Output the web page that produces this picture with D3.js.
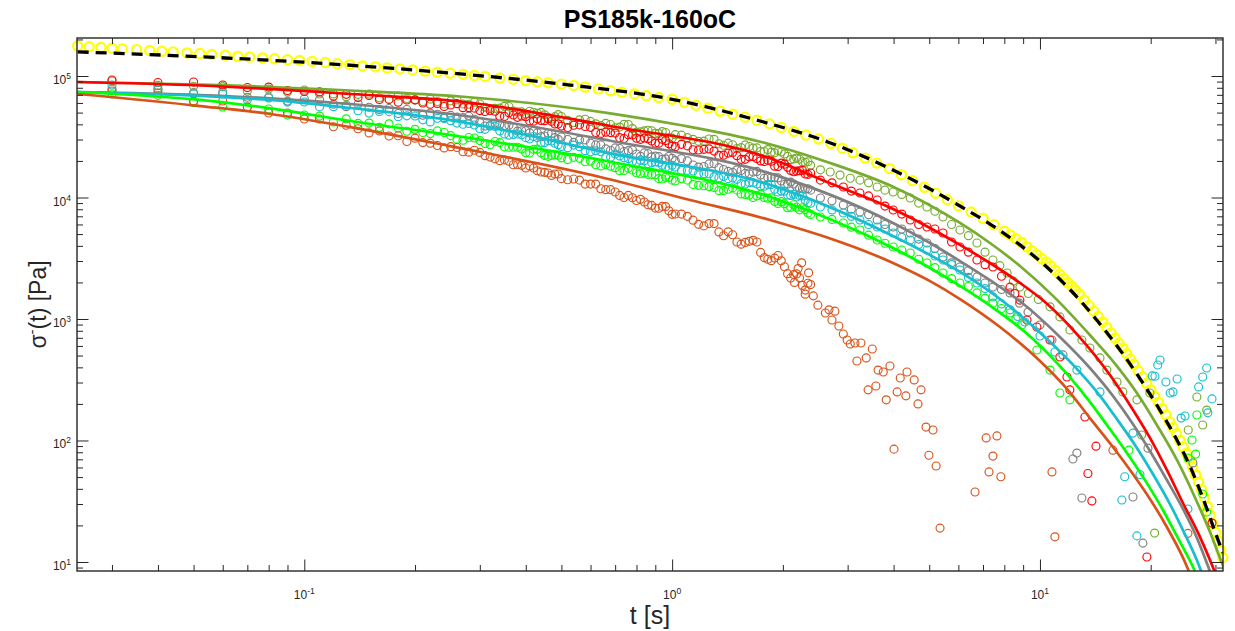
<!DOCTYPE html>
<html>
<head>
<meta charset="utf-8">
<script src="https://cdn.jsdelivr.net/npm/d3@7"></script>
<style>
  body { margin: 0; background: #fff; }
  svg { display: block; font-family: "Liberation Sans", Arial, Helvetica, sans-serif; }
</style>
</head>
<body>
<div id="chart"></div>
<script>
// ---- data ----
// measured stress relaxation, common time grids for the dense part (s)
const tDense = [0.03,0.04,0.05,0.06,0.07,0.08,0.09,0.10,0.11,0.12,0.13,0.14,0.15,0.16,0.17,0.18,0.19,0.20,
  0.22,0.24,0.26,0.28,0.30,0.32,0.34,0.36,0.38,0.40,0.42,0.44,0.46,0.48,0.50,
  0.54,0.58,0.62,0.66,0.70,0.74,0.78,0.82,0.86,0.90,0.94,0.98,
  1.02,1.10,1.18,1.26,1.34,1.42,1.50,1.58,1.66,1.74,1.82,1.90,1.98,2.06,2.14,2.22,2.30,2.38];
const tMid = [0.21,0.23,0.25,0.27,0.29,0.31,0.33,0.35,0.37,0.39,0.41,0.43,0.45,0.47,0.49,
  0.52,0.56,0.60,0.64,0.68,0.72,0.76,0.80,0.84,0.88,0.92,0.96,1.00,
  1.06,1.14,1.22,1.30,1.38,1.46,1.54,1.62,1.70,1.78,1.86,1.94,2.02,2.10,2.18,2.26,2.34];

const oliveDense = [9.10e4,8.37e4,8.24e4,8.17e4,7.53e4,7.80e4,7.37e4,7.67e4,7.11e4,7.12e4,
  6.76e4,7.06e4,7.10e4,6.62e4,6.42e4,6.85e4,6.53e4,6.33e4,6.46e4,5.88e4,
  6.37e4,5.85e4,5.88e4,5.39e4,5.44e4,5.61e4,5.07e4,4.86e4,5.03e4,5.02e4,
  4.56e4,4.63e4,4.64e4,4.15e4,4.41e4,4.04e4,4.08e4,3.75e4,4.00e4,3.69e4,
  3.47e4,3.58e4,3.37e4,3.49e4,3.11e4,3.29e4,3.11e4,2.90e4,3.03e4,2.77e4,
  2.80e4,2.53e4,2.71e4,2.55e4,2.39e4,2.48e4,2.33e4,2.37e4,2.18e4,2.07e4,
  2.07e4,1.95e4,1.84e4];
const oliveMid = [6.16e4,6.17e4,6.24e4,5.88e4,6.09e4,5.53e4,5.42e4,5.63e4,5.14e4,5.06e4,5.13e4,4.93e4,4.79e4,4.43e4,4.81e4,
  4.31e4,4.36e4,4.23e4,3.91e4,3.99e4,3.80e4,3.99e4,3.45e4,3.53e4,3.54e4,3.36e4,3.43e4,3.08e4,
  3.26e4,3.01e4,2.91e4,3.01e4,2.69e4,2.72e4,2.57e4,2.63e4,2.56e4,2.39e4,2.36e4,2.44e4,2.28e4,2.05e4,2.11e4,1.97e4,1.97e4];
const redDense = [9.27e4,8.85e4,8.93e4,8.43e4,8.04e4,8.11e4,7.60e4,7.45e4,7.40e4,6.82e4,
  7.06e4,6.65e4,6.91e4,6.41e4,6.42e4,6.09e4,6.35e4,6.37e4,5.86e4,5.61e4,
  5.92e4,5.49e4,5.19e4,5.21e4,4.67e4,4.98e4,4.57e4,4.62e4,4.25e4,4.30e4,
  4.45e4,4.03e4,3.87e4,3.93e4,3.84e4,3.43e4,3.45e4,3.39e4,3.06e4,3.27e4,
  3.01e4,3.04e4,2.80e4,3.01e4,2.77e4,2.62e4,2.66e4,2.46e4,2.51e4,2.22e4,
  2.32e4,2.21e4,2.06e4,2.17e4,2.00e4,2.03e4,1.81e4,1.92e4,1.77e4,1.63e4,
  1.66e4,1.56e4,1.59e4];
const redMid = [6.00e4,5.95e4,5.77e4,5.49e4,5.44e4,5.10e4,5.13e4,4.65e4,4.78e4,4.69e4,4.27e4,4.44e4,4.29e4,4.24e4,4.03e4,
  3.76e4,3.96e4,3.78e4,3.37e4,3.42e4,3.11e4,3.29e4,3.08e4,3.09e4,2.92e4,2.80e4,2.94e4,2.65e4,
  2.74e4,2.47e4,2.49e4,2.41e4,2.23e4,2.35e4,2.06e4,2.16e4,2.09e4,1.98e4,1.99e4,1.80e4,1.88e4,1.67e4,1.65e4,1.67e4,1.55e4];
const grayDense = [7.82e4,7.86e4,7.29e4,7.36e4,6.69e4,6.59e4,6.22e4,6.47e4,6.38e4,5.85e4,
  5.59e4,5.88e4,5.53e4,5.31e4,5.40e4,4.91e4,5.30e4,4.92e4,4.95e4,4.54e4,
  4.59e4,4.67e4,4.15e4,3.91e4,3.99e4,3.93e4,3.52e4,3.55e4,3.51e4,3.16e4,
  3.38e4,3.11e4,3.15e4,2.84e4,2.98e4,2.71e4,2.51e4,2.56e4,2.39e4,2.46e4,
  2.18e4,2.29e4,2.19e4,2.06e4,2.18e4,2.01e4,2.00e4,1.78e4,1.89e4,1.76e4,
  1.64e4,1.69e4,1.58e4,1.62e4,1.53e4,1.46e4,1.46e4,1.37e4,1.29e4,1.29e4,
  1.19e4,1.17e4,1.15e4];
const grayMid = [4.76e4,4.84e4,4.74e4,4.54e4,4.41e4,3.88e4,4.10e4,3.88e4,3.80e4,3.54e4,3.40e4,3.40e4,3.21e4,3.37e4,3.01e4,
  3.00e4,2.97e4,2.80e4,2.71e4,2.45e4,2.53e4,2.43e4,2.28e4,2.33e4,2.16e4,2.17e4,2.08e4,2.10e4,
  2.09e4,1.85e4,1.80e4,1.90e4,1.70e4,1.61e4,1.67e4,1.57e4,1.64e4,1.44e4,1.46e4,1.45e4,1.28e4,1.34e4,1.22e4,1.18e4,1.18e4];
const cyanDense = [8.43e4,7.67e4,7.14e4,7.11e4,6.38e4,6.72e4,6.10e4,6.11e4,5.57e4,5.59e4,
  5.75e4,5.18e4,4.95e4,5.11e4,5.09e4,4.62e4,4.70e4,4.69e4,4.19e4,4.47e4,
  4.10e4,4.07e4,3.68e4,3.88e4,3.52e4,3.26e4,3.33e4,3.11e4,3.18e4,2.81e4,
  2.94e4,2.80e4,2.63e4,2.70e4,2.43e4,2.42e4,2.15e4,2.28e4,2.12e4,1.98e4,
  2.03e4,1.90e4,1.96e4,1.84e4,1.76e4,1.78e4,1.67e4,1.57e4,1.57e4,1.45e4,
  1.43e4,1.41e4,1.29e4,1.33e4,1.24e4,1.28e4,1.17e4,1.13e4,1.05e4,1.06e4,
  1.04e4,9.48e3,8.97e3];
const cyanMid = [4.36e4,4.49e4,4.29e4,4.01e4,3.95e4,3.64e4,3.84e4,3.33e4,3.30e4,3.28e4,3.03e4,3.11e4,2.83e4,2.92e4,2.72e4,
  2.57e4,2.62e4,2.38e4,2.38e4,2.14e4,2.20e4,2.09e4,1.94e4,2.01e4,1.93e4,1.94e4,1.77e4,1.84e4,
  1.67e4,1.65e4,1.57e4,1.48e4,1.49e4,1.45e4,1.30e4,1.33e4,1.29e4,1.24e4,1.28e4,1.11e4,1.13e4,1.04e4,1.01e4,1.03e4,9.05e3];
const greenDense = [7.11e4,6.93e4,6.03e4,5.56e4,5.54e4,5.35e4,4.77e4,4.78e4,4.68e4,4.18e4,
  4.44e4,4.07e4,4.10e4,3.78e4,4.04e4,3.73e4,3.51e4,3.64e4,3.36e4,3.43e4,
  3.02e4,3.12e4,2.94e4,2.72e4,2.83e4,2.59e4,2.59e4,2.33e4,2.49e4,2.33e4,
  2.18e4,2.25e4,2.12e4,2.14e4,1.97e4,1.86e4,1.86e4,1.76e4,1.67e4,1.68e4,
  1.57e4,1.55e4,1.54e4,1.42e4,1.46e4,1.37e4,1.39e4,1.26e4,1.23e4,1.14e4,
  1.17e4,1.15e4,1.06e4,1.00e4,1.06e4,9.87e3,9.27e3,9.24e3,8.23e3,8.71e3,
  7.92e3,7.95e3,7.26e3];
const greenMid = [3.43e4,3.53e4,3.23e4,2.96e4,3.09e4,2.78e4,2.89e4,2.61e4,2.59e4,2.51e4,2.32e4,2.50e4,2.22e4,2.22e4,2.23e4,
  2.05e4,2.10e4,1.99e4,1.82e4,1.81e4,1.66e4,1.74e4,1.60e4,1.59e4,1.55e4,1.43e4,1.47e4,1.39e4,
  1.43e4,1.28e4,1.25e4,1.21e4,1.14e4,1.20e4,1.07e4,1.05e4,1.03e4,1.00e4,9.93e3,8.92e3,8.90e3,8.31e3,8.32e3,8.24e3,7.46e3];
const orangeDense = [7.53e4,7.25e4,6.23e4,6.23e4,5.56e4,4.96e4,4.96e4,4.43e4,4.43e4,3.82e4,
  3.93e4,3.68e4,3.40e4,3.53e4,3.21e4,3.22e4,2.89e4,3.08e4,2.80e4,2.56e4,
  2.58e4,2.36e4,2.35e4,2.15e4,2.01e4,1.99e4,1.86e4,1.75e4,1.75e4,1.62e4,
  1.59e4,1.56e4,1.43e4,1.42e4,1.29e4,1.29e4,1.16e4,1.11e4,1.00e4,9.96e3,
  9.66e3,8.71e3,8.18e3,8.45e3,7.77e3,7.32e3,7.00e3,6.01e3,6.10e3,5.21e3,
  5.22e3,4.30e3,4.27e3,4.44e3,3.53e3,3.10e3,3.17e3,3.01e3,2.36e3,2.32e3,
  2.19e3,1.73e3,1.92e3];
const orangeMid = [2.83e4,2.68e4,2.62e4,2.38e4,2.45e4,2.21e4,2.08e4,2.04e4,1.86e4,1.84e4,1.82e4,1.66e4,1.61e4,1.52e4,1.56e4,
  1.40e4,1.39e4,1.29e4,1.18e4,1.16e4,1.04e4,1.04e4,9.45e3,9.19e3,8.61e3,8.16e3,8.42e3,7.27e3,
  7.30e3,6.51e3,5.84e3,6.10e3,4.84e3,4.94e3,4.13e3,4.36e3,4.30e3,3.20e3,3.02e3,3.33e3,2.69e3,2.17e3,2.35e3,1.89e3,1.97e3];

// sparser / noisy long-time points [t, sigma]
const oliveTail = [[2.53,1.69e4],[2.69,1.62e4],[2.86,1.53e4],[3.05,1.44e4],[3.24,1.39e4],[3.42,1.32e4],
  [3.61,1.22e4],[3.79,1.15e4],[3.99,1.11e4],[4.21,1.06e4],[4.44,9.9e3],[4.68,9.0e3],[4.93,8.35e3],
  [5.18,7.7e3],[5.45,6.91e3],[5.75,6.0e3],[6.06,5.4e3],[6.39,4.85e3],[6.74,4.22e3],[7.09,3.55e3],
  [7.45,3.06e3],[7.78,2.75e3],[8.14,2.39e3],[8.47,2.05e3],[8.82,1.83e3],[9.3,1.62e3],[9.9,1.45e3],
  [10.65,1.26e3],[11.33,1.04e3],[12.06,812],[13.0,672],[13.67,577],[14.56,478],[15.2,380],[16.2,303],
  [16.8,251],[18.35,216],[19.9,246],[18.9,111],[25.3,122],[26.7,228],[28.4,178],[27.7,134],[20.5,17.3]];
const redTail = [[2.53,1.39e4],[2.72,1.32e4],[2.92,1.22e4],[3.07,1.13e4],[3.24,1.09e4],[3.42,1.03e4],
  [3.61,9.54e3],[3.79,8.5e3],[3.99,7.89e3],[4.21,7.3e3],[4.44,6.53e3],[4.68,6.0e3],[4.93,5.72e3],
  [5.18,5.5e3],[5.45,5.1e3],[5.75,4.3e3],[6.06,3.91e3],[6.39,3.55e3],[6.74,3.06e3],[7.09,2.8e3],
  [7.45,2.68e3],[7.86,2.25e3],[8.29,1.83e3],[8.55,1.62e3],[8.82,1.43e3],[9.22,981],[9.81,859],
  [10.65,672],[11.33,487],[11.84,333],[12.06,261],[13.25,156],[14.2,89.8],[13.5,53.5],[13.84,31.8],
  [19.53,11.0],[29.35,20.9]];
const grayTail = [[2.53,9.91e3],[2.72,9.4e3],[2.92,8.68e3],[3.07,8.0e3],[3.24,7.6e3],[3.42,7.2e3],
  [3.61,6.53e3],[3.79,6.0e3],[3.99,5.72e3],[4.21,5.5e3],[4.44,5.1e3],[4.68,4.55e3],[4.93,4.22e3],
  [5.18,3.8e3],[5.45,3.24e3],[5.75,2.9e3],[6.06,2.68e3],[6.39,2.5e3],[6.74,2.22e3],[7.09,1.98e3],
  [7.45,1.83e3],[7.86,1.75e3],[8.29,1.64e3],[8.8,1.35e3],[9.28,1.14e3],[10,893],[10.78,672],[11.55,506],
  [12.6,78.8],[12.29,70.4],[13.0,33.6],[17.9,34.3],[19.05,14.3],[26.05,65.4],[19.66,86.5]];
const cyanTail = [[2.53,8.35e3],[2.72,7.9e3],[2.92,7.46e3],[3.07,7.0e3],[3.24,6.53e3],[3.42,6.0e3],
  [3.61,5.72e3],[3.79,5.5e3],[3.99,5.1e3],[4.21,4.7e3],[4.44,4.47e3],[4.68,4.1e3],[4.93,3.7e3],
  [5.18,3.3e3],[5.45,3.06e3],[5.75,2.8e3],[6.06,2.53e3],[6.39,2.2e3],[6.74,1.98e3],[7.09,1.78e3],
  [7.45,1.52e3],[7.86,1.33e3],[8.29,1.19e3],[8.7,1.05e3],[9.1,945],[10,725],[10.98,535],[12.6,380],
  [14.56,251],[21.2,460],[20.9,418],[20.2,340],[20.54,338],[22.0,303],[23.6,321],[22.6,246],[23.0,251],
  [28.4,395],[27.7,333],[27.0,276],[29.35,220],[28.6,169],[24.2,153],[24.8,159],[17.9,115],
  [17.0,50.3],[18.7,52.5],[16.7,32.4],[18.35,16.4],[25.25,27.3]];
const greenTail = [[2.53,6.91e3],[2.72,6.6e3],[2.92,6.17e3],[3.07,5.7e3],[3.24,5.4e3],[3.42,4.9e3],
  [3.61,4.47e3],[3.79,4.2e3],[3.99,3.91e3],[4.21,3.7e3],[4.44,3.49e3],[4.68,3.1e3],[4.93,2.89e3],
  [5.18,2.65e3],[5.45,2.39e3],[5.75,2.15e3],[6.06,1.98e3],[6.39,1.85e3],[6.74,1.64e3],[7.09,1.48e3],
  [7.45,1.35e3],[7.86,1.22e3],[8.29,1.12e3],[8.6,1.0e3],[8.93,893],[9.81,556],[10.65,380],[11.33,246],
  [12.06,216],[17.45,83.2],[26.7,162],[25.9,101],[25.25,71.7],[26.5,77.3],[27.7,36.3],[28.4,25.8]];
const orangeTail = [[2.2,2.6e3],[2.3,1.6e3],[2.35,2.4e3],[2.15,2.0e3],[2.42,1.55e3],[2.25,2.9e3],
  [2.49,1.30e3],[2.67,1.19e3],[2.77,1.16e3],[2.61,1.12e3],[2.72,981],[2.84,876],[2.92,753],[2.99,672],
  [3.05,623],[3.14,635],[3.26,635],[3.50,566],[3.37,478],[3.18,451],[3.63,380],[3.75,366],[3.91,410],
  [4.17,327],[3.58,281],[3.41,261],[3.82,216],[4.09,251],[4.01,84.9],[4.35,366],[4.55,315],[4.75,261],
  [4.32,233],[4.66,200],[4.90,129],[5.12,122],[4.99,75.6],[5.22,61.7],[5.35,19.0],[6.66,37.7],
  [7.14,105],[7.64,109],[7.45,74.4],[7.27,55.1],[7.83,50.3],[10.78,55.1],[10.98,16.1],[15.79,83.2],
  [25.25,17.2]];

// yellow reference data
const yellowT = [0.0242,0.026,0.028,0.030,0.032,0.035,0.038,0.041,0.044,0.048,0.052,
  0.056,0.061,0.066,0.071,0.077,0.083,0.090,0.097,0.105,0.114,0.123,0.133,0.144,0.156,0.168,0.182,0.197,0.213,0.230,0.249,
  0.27,0.29,0.31,0.34,0.37,0.40,0.43,0.46,0.50,
  0.54,0.58,0.63,0.68,0.73,0.79,0.85,0.92,
  1.0,1.08,1.16,1.25,1.35,1.46,1.58,1.70,1.84,1.98,2.14,2.31,2.50,
  2.70,2.90,3.10,3.35,3.60,3.90,4.20,4.50,4.85,5.20,5.60,6.00,6.50,7.00,7.50,8.00,
  8.3,8.6,8.9,9.2,9.5,9.8,10.1,10.4,10.7,11.0,11.3,11.6,11.9,12.2,12.5,12.8,
  13.2,13.6,14.0,14.4,14.8,15.2,15.6,16.0,16.4,16.8,17.2,17.6,18.0,
  18.5,19.0,19.5,20.0,20.5,21.0,21.5,22.0,22.5,23.0,23.5,24.0,24.5,25.0,25.5,26.0,26.5,27.0,27.5,
  28.0,28.5,29.0,29.5,30.0,30.5,31.0,31.4];
const yellowS = [1.77e5,1.74e5,1.72e5,1.69e5,1.67e5,1.65e5,1.62e5,1.60e5,1.58e5,1.55e5,1.53e5,
  1.505e5,1.48e5,1.45e5,1.43e5,1.41e5,1.385e5,1.36e5,1.34e5,1.315e5,1.29e5,1.26e5,1.24e5,1.21e5,1.19e5,1.166e5,1.142e5,1.12e5,1.097e5,1.076e5,1.054e5,
  1.032e5,1.01e5,9.90e4,9.63e4,9.39e4,9.17e4,8.97e4,8.79e4,8.58e4,
  8.35e4,8.10e4,7.83e4,7.57e4,7.35e4,7.11e4,6.89e4,6.66e4,
  6.43e4,6.07e4,5.75e4,5.44e4,5.14e4,4.85e4,4.57e4,4.33e4,4.04e4,3.77e4,3.50e4,3.26e4,3.03e4,
  2.79e4,2.54e4,2.33e4,2.11e4,1.92e4,1.73e4,1.54e4,1.376e4,1.216e4,1.083e4,9.58e3,8.54e3,7.60e3,6.72e3,5.97e3,5.27e3,
  4.91e3,4.59e3,4.27e3,3.94e3,3.65e3,3.39e3,3.15e3,2.94e3,2.73e3,2.52e3,2.33e3,2.16e3,2.00e3,1.86e3,1.73e3,1.60e3,
  1.43e3,1.29e3,1.16e3,1.05e3,945,851,768,695,631,574,518,468,424,
  375,333,295,261,231,206,183,162,143,128,114,100,88.4,78.3,69.5,60.1,52.1,45.3,39.5,
  33.8,28.7,24.3,20.6,17.6,14.9,12.5,10.9];

// model curves [t, sigma]
const dashFit = [[0.0242,1.58e5],[0.0522,1.44e5],[0.0994,1.30e5],[0.2654,1.04e5],[0.528,8.43e4],[1.0,6.43e4],
  [1.735,4.26e4],[2.638,2.88e4],[3.986,1.685e4],[5.025,1.175e4],[6.062,8.51e3],[7.313,6.05e3],[8.824,4.07e3],
  [10.65,2.53e3],[12.6,1.52e3],[14.56,910],[16.81,516],[19.05,297],[21.19,178],[23.57,101],[25.56,61.7],
  [27.73,33.6],[30.27,16.1],[31.43,11.9]];
const oliveFit = [[0.0242,8.93e4],[0.0522,8.51e4],[0.1334,7.60e4],[0.2654,6.78e4],[0.6785,4.93e4],[1.051,3.95e4],
  [1.735,2.88e4],[2.638,1.96e4],[3.986,1.227e4],[6.062,6.17e3],[7.313,4.22e3],[8.824,2.73e3],[10.85,1.55e3],
  [13.67,738],[16.19,410],[18.35,246],[20.79,134],[23.57,69.1],[26.05,37.0],[28.97,17.7],[31.24,9.8],[32.84,6.71]];
const redFit = [[0.0242,8.93e4],[0.0522,8.35e4],[0.1334,7.11e4],[0.2654,6.17e4],[0.6785,3.88e4],[1.846,2.10e4],
  [2.638,1.34e4],[3.986,8.04e3],[5.025,5.61e3],[6.062,4.07e3],[7.313,2.89e3],[8.824,1.98e3],[10.32,1.38e3],
  [12.6,752],[15.5,346],[17.56,196],[19.91,105],[22.13,57.2],[24.47,30.6],[27.22,16.1],[29.89,8.27],[31.24,5.87]];
const grayFit = [[0.0242,7.385e4],[0.0522,6.98e4],[0.0808,6.55e4],[0.1334,5.88e4],[0.2654,4.75e4],[0.6785,2.93e4],
  [1.846,1.58e4],[3.986,6.17e3],[5.025,4.22e3],[6.062,3.00e3],[7.313,2.09e3],[8.935,1.36e3],[11.33,711],
  [13.67,395],[15.79,233],[17.89,137],[19.91,82.0],[22.13,47.3],[24.47,27.4],[26.71,15.8],[28.61,9.3],[29.89,6.46]];
const cyanFit = [[0.0242,7.385e4],[0.0522,6.85e4],[0.0808,6.35e4],[0.1334,5.45e4],[0.2492,4.34e4],[0.6785,2.31e4],
  [1.846,1.27e4],[3.986,4.82e3],[5.025,3.36e3],[6.062,2.44e3],[7.786,1.46e3],[10.45,685],[12.6,388],
  [14.56,233],[16.19,150],[18.35,86.8],[20.28,53.0],[22.56,30.0],[24.47,18.3],[27.22,8.93],[28.08,6.84]];
const greenFit = [[0.0242,7.385e4],[0.0522,6.35e4],[0.0808,5.42e4],[0.1334,4.26e4],[0.2492,3.27e4],[0.6785,1.97e4],
  [1.846,1.01e4],[3.986,3.84e3],[5.025,2.63e3],[6.062,1.87e3],[7.313,1.29e3],[9.572,685],[11.84,353],
  [13.67,208],[15.21,134],[17.24,78.9],[19.53,44.6],[21.59,26.8],[23.57,16.3],[26.37,8.43],[27.22,6.71]];
const orangeFit = [[0.0242,7.11e4],[0.0522,5.66e4],[0.0808,4.87e4],[0.1334,3.80e4],[0.2492,2.65e4],[0.637,1.475e4],
  [1.119,9.54e3],[1.846,6.53e3],[3.986,2.89e3],[5.025,2.05e3],[6.062,1.46e3],[7.786,859],[10.0,451],
  [11.84,266],[13.67,153],[15.79,88.4],[17.89,53.0],[19.91,33.0],[22.13,19.4],[25.25,8.76],[26.05,6.84]];

// axes ticks
const xMajor = [0.1, 1, 10];
const xMajorExp = ["-1", "0", "1"];
const xMinor = [0.03,0.04,0.05,0.06,0.07,0.08,0.09,0.2,0.3,0.4,0.5,0.6,0.7,0.8,0.9,2,3,4,5,6,7,8,9,20,30];
const yMajor = [10, 100, 1000, 10000, 100000];
const yMajorExp = ["1", "2", "3", "4", "5"];

const colors = {
  yellow: "#FFFF00", olive: "#77AC30", red: "#FF0000", gray: "#808080",
  cyan: "#17BECF", green: "#00FF00", orange: "#D95319"
};

// ---- chart ----
const width = 1235, height = 631;
const plot = {left: 77, right: 1223, top: 38, bottom: 571};

const x = d3.scaleLog().domain([0.0241, 31.45]).range([plot.left, plot.right]);
const y = d3.scaleLog().domain([8.43, 2.055e5]).range([plot.bottom, plot.top]);

const svg = d3.select("#chart").append("svg")
  .attr("width", width).attr("height", height);

svg.append("rect").attr("width", width).attr("height", height).attr("fill", "#fff");

svg.append("clipPath").attr("id", "clip")
  .append("rect")
  .attr("x", plot.left).attr("y", plot.top)
  .attr("width", plot.right - plot.left).attr("height", plot.bottom - plot.top);

//combine dense grid, in-between grid and tail of each measured series
function series(dense, mid, tail) {
  return tDense.map((t, i) => [t, dense[i]])
    .concat(tMid.map((t, i) => [t, mid[i]]))
    .concat(tail)
    .filter(d => d[1] !== undefined);
}

const yellowPts = yellowT.map((t, i) => [t, yellowS[i]]).filter(d => d[1] !== undefined);

const markers = [
  {pts: yellowPts, color: colors.yellow, r: 4.6, w: 2.2},
  {pts: series(oliveDense, oliveMid, oliveTail), color: colors.olive, r: 4, w: 1.15},
  {pts: series(grayDense, grayMid, grayTail), color: colors.gray, r: 4, w: 1.15},
  {pts: series(redDense, redMid, redTail), color: colors.red, r: 4, w: 1.15},
  {pts: series(cyanDense, cyanMid, cyanTail), color: colors.cyan, r: 4, w: 1.15},
  {pts: series(greenDense, greenMid, greenTail), color: colors.green, r: 4, w: 1.15},
  {pts: series(orangeDense, orangeMid, orangeTail), color: colors.orange, r: 4, w: 1.15}
];

const dataLayer = svg.append("g");

markers.forEach(s => {
  dataLayer.append("g")
    .selectAll("circle")
    .data(s.pts)
    .enter()
    .append("circle")
    .attr("cx", d => x(d[0]))
    .attr("cy", d => y(d[1]))
    .attr("r", s.r)
    .attr("fill", "none")
    .attr("stroke", s.color)
    .attr("stroke-width", s.w);
});

//fitted model lines
const line = d3.line()
  .x(d => x(d[0]))
  .y(d => y(d[1]))
  .curve(d3.curveMonotoneX);

const fits = [
  {pts: oliveFit, color: colors.olive},
  {pts: redFit, color: colors.red},
  {pts: grayFit, color: colors.gray},
  {pts: cyanFit, color: colors.cyan},
  {pts: greenFit, color: colors.green},
  {pts: orangeFit, color: colors.orange}
];

const lineLayer = svg.append("g").attr("clip-path", "url(#clip)");

fits.forEach(f => {
  lineLayer.append("path")
    .datum(f.pts)
    .attr("d", line)
    .attr("fill", "none")
    .attr("stroke", f.color)
    .attr("stroke-width", 2.7);
});

lineLayer.append("path")
  .datum(dashFit)
  .attr("d", line)
  .attr("fill", "none")
  .attr("stroke", "#000")
  .attr("stroke-width", 3.3)
  .attr("stroke-dasharray", "11,7");

// ---- axes ----
const axisColor = "#262626";

function ticks(axis, values, size, transform) {
  const g = svg.append("g")
    .attr("transform", transform)
    .call(axis.tickValues(values).tickSizeInner(-size).tickSizeOuter(0).tickFormat(""));
  g.select(".domain").remove();
  g.selectAll("line").attr("stroke", axisColor).attr("stroke-width", 1);
}

let yMinor = [];
for (let k = 0; k <= 5; k++) {
  for (let m = 2; m <= 9; m++) {
    const v = m * Math.pow(10, k);
    if (v > 8.43 && v < 2.055e5) yMinor.push(v);
  }
}

ticks(d3.axisBottom(x), xMajor, 11.5, `translate(0,${plot.bottom})`);
ticks(d3.axisBottom(x), xMinor, 6, `translate(0,${plot.bottom})`);
ticks(d3.axisTop(x), xMajor, 11.5, `translate(0,${plot.top})`);
ticks(d3.axisTop(x), xMinor, 6, `translate(0,${plot.top})`);
ticks(d3.axisLeft(y), yMajor, 11.5, `translate(${plot.left},0)`);
ticks(d3.axisLeft(y), yMinor, 6, `translate(${plot.left},0)`);
ticks(d3.axisRight(y), yMajor, 11.5, `translate(${plot.right},0)`);
ticks(d3.axisRight(y), yMinor, 6, `translate(${plot.right},0)`);

svg.append("rect")
  .attr("x", plot.left).attr("y", plot.top)
  .attr("width", plot.right - plot.left).attr("height", plot.bottom - plot.top)
  .attr("fill", "none").attr("stroke", axisColor).attr("stroke-width", 1.4);

// tick labels with superscript exponents
xMajor.forEach((v, i) => {
  const t = svg.append("text")
    .attr("x", x(v))
    .attr("y", plot.bottom + 27.5)
    .attr("text-anchor", "middle")
    .attr("fill", axisColor)
    .attr("font-size", 12);
  t.append("tspan").text("10");
  t.append("tspan").attr("dy", -5).attr("font-size", 8.5).text(xMajorExp[i]);
});

yMajor.forEach((v, i) => {
  const t = svg.append("text")
    .attr("x", plot.left - 6)
    .attr("y", y(v) + 8)
    .attr("text-anchor", "end")
    .attr("fill", axisColor)
    .attr("font-size", 12);
  t.append("tspan").text("10");
  t.append("tspan").attr("dy", -5).attr("font-size", 8.5).text(yMajorExp[i]);
});

// title and axis labels
svg.append("text")
  .attr("x", (plot.left + plot.right) / 2)
  .attr("y", 28)
  .attr("text-anchor", "middle")
  .attr("font-size", 25)
  .attr("font-weight", "bold")
  .attr("fill", "#000")
  .text("PS185k-160oC");

svg.append("text")
  .attr("x", (plot.left + plot.right) / 2)
  .attr("y", 624)
  .attr("text-anchor", "middle")
  .attr("font-size", 25)
  .attr("fill", axisColor)
  .text("t [s]");

const yl = svg.append("text")
  .attr("transform", `translate(46,${(plot.top + plot.bottom) / 2}) rotate(-90)`)
  .attr("text-anchor", "middle")
  .attr("font-size", 23)
  .attr("fill", axisColor);
yl.append("tspan").text("σ");
yl.append("tspan").attr("dy", -9).attr("font-size", 15).text("-");
yl.append("tspan").attr("dy", 9).text("(t) [Pa]");
</script>
</body>
</html>
